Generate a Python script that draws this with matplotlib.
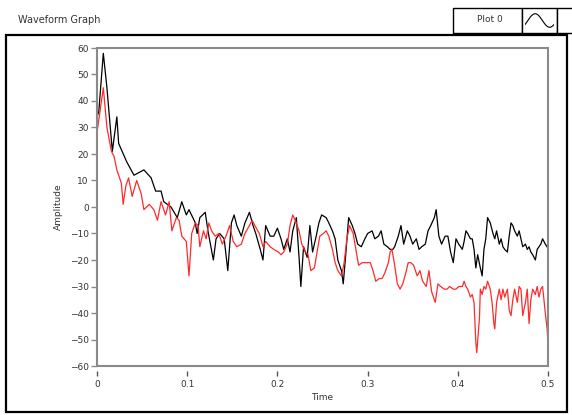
import numpy as np
import matplotlib
matplotlib.use("Agg")
import matplotlib.pyplot as plt
from matplotlib.patches import Rectangle

plt.rcParams['font.family'] = ['Liberation Sans Narrow', 'DejaVu Sans']

# Plot 0 (black) sample times and amplitudes
black_t = [0.000, 0.002, 0.007, 0.011, 0.017, 0.022, 0.024, 0.033, 0.041, 0.052,
           0.060, 0.065, 0.071, 0.074, 0.082, 0.089, 0.094, 0.099, 0.102, 0.109,
           0.111, 0.114, 0.120, 0.123, 0.129, 0.132, 0.136, 0.141, 0.145, 0.149,
           0.152, 0.155, 0.160, 0.164, 0.169, 0.173, 0.176, 0.181, 0.184, 0.187,
           0.192, 0.196, 0.200, 0.204, 0.207, 0.211, 0.214, 0.217, 0.221, 0.224,
           0.226, 0.229, 0.233, 0.236, 0.239, 0.243, 0.246, 0.249, 0.254, 0.257,
           0.261, 0.264, 0.267, 0.271, 0.273, 0.276, 0.279, 0.283, 0.286, 0.289,
           0.293, 0.297, 0.300, 0.305, 0.308, 0.312, 0.315, 0.318, 0.322, 0.325,
           0.328, 0.330, 0.334, 0.337, 0.340, 0.344, 0.347, 0.350, 0.354, 0.357,
           0.360, 0.364, 0.367, 0.370, 0.374, 0.376, 0.379, 0.382, 0.386, 0.389,
           0.392, 0.395, 0.398, 0.401, 0.405, 0.407, 0.409, 0.411, 0.414, 0.416,
           0.418, 0.420, 0.422, 0.425, 0.427, 0.429, 0.431, 0.433, 0.436, 0.439,
           0.441, 0.443, 0.446, 0.448, 0.450, 0.452, 0.455, 0.457, 0.459, 0.461,
           0.463, 0.466, 0.468, 0.470, 0.472, 0.475, 0.477, 0.479, 0.481, 0.483,
           0.486, 0.488, 0.490, 0.492, 0.494, 0.497, 0.499, 0.500]
black_y = [34, 36, 58, 45, 21, 34, 24, 17, 12, 14,
           11, 6, 6, 2, 0, -4, 2, -3, -1, -6,
           -10, -4, -2, -9, -20, -12, -10, -12, -24, -6,
           -3, -7, -11, -6, -2, -7, -10, -16, -20, -7,
           -11, -11, -8, -12, -16, -12, -17, -9, -4, -19,
           -30, -15, -19, -7, -17, -11, -6, -3, -4, -6,
           -9, -12, -20, -24, -29, -17, -4, -7, -10, -14,
           -15, -12, -10, -9, -12, -11, -9, -14, -15, -16,
           -16, -15, -11, -7, -14, -9, -11, -14, -12, -16,
           -15, -14, -9, -7, -4, -1, -11, -14, -11, -11,
           -17, -21, -12, -14, -16, -13, -9, -10, -12, -12,
           -16, -23, -18, -23, -26, -16, -12, -4, -6, -10,
           -12, -9, -14, -12, -15, -16, -17, -11, -6, -7,
           -9, -11, -9, -12, -15, -14, -16, -15, -17, -18,
           -20, -16, -15, -14, -12, -14, -15, -16]

# second trace (red)
red_t = [0.000, 0.007, 0.011, 0.016, 0.019, 0.022, 0.027, 0.029, 0.032, 0.035,
         0.039, 0.044, 0.049, 0.052, 0.058, 0.063, 0.067, 0.071, 0.076, 0.080,
         0.083, 0.088, 0.091, 0.094, 0.099, 0.102, 0.105, 0.109, 0.112, 0.114,
         0.118, 0.121, 0.124, 0.127, 0.131, 0.135, 0.139, 0.143, 0.147, 0.151,
         0.155, 0.160, 0.164, 0.169, 0.172, 0.175, 0.180, 0.184, 0.187, 0.192,
         0.196, 0.201, 0.204, 0.207, 0.211, 0.214, 0.217, 0.221, 0.224, 0.227,
         0.231, 0.234, 0.237, 0.241, 0.244, 0.247, 0.251, 0.254, 0.257, 0.261,
         0.264, 0.267, 0.271, 0.274, 0.277, 0.280, 0.284, 0.287, 0.290, 0.294,
         0.298, 0.303, 0.306, 0.309, 0.313, 0.316, 0.319, 0.323, 0.325, 0.327,
         0.330, 0.333, 0.336, 0.339, 0.343, 0.345, 0.348, 0.351, 0.355, 0.358,
         0.361, 0.365, 0.368, 0.371, 0.375, 0.378, 0.381, 0.385, 0.388, 0.391,
         0.395, 0.398, 0.401, 0.405, 0.407, 0.409, 0.411, 0.414, 0.416, 0.418,
         0.420, 0.421, 0.424, 0.425, 0.427, 0.429, 0.431, 0.433, 0.436, 0.438,
         0.440, 0.441, 0.443, 0.446, 0.448, 0.450, 0.452, 0.455, 0.457, 0.459,
         0.461, 0.463, 0.466, 0.468, 0.470, 0.472, 0.475, 0.477, 0.479, 0.481,
         0.483, 0.486, 0.488, 0.490, 0.492, 0.494, 0.497, 0.499, 0.500]
red_y = [28, 45, 30, 21, 19, 14, 9, 1, 8, 11,
         4, 10, 5, -1, 1, -1, -5, 2, -3, 2,
         -9, -4, -5, -11, -13, -26, -10, -6, -7, -15,
         -9, -12, -6, -9, -11, -10, -14, -11, -7, -13,
         -15, -14, -10, -7, -5, -7, -10, -15, -13, -15,
         -16, -17, -18, -17, -14, -7, -3, -6, -9, -14,
         -17, -18, -24, -23, -17, -11, -10, -9, -11, -16,
         -21, -24, -26, -21, -12, -7, -10, -16, -22, -21,
         -21, -21, -24, -28, -27, -27, -25, -21, -17, -16,
         -22, -29, -31, -29, -24, -21, -21, -22, -26, -24,
         -28, -30, -24, -32, -36, -29, -30, -31, -31, -30,
         -31, -31, -30, -30, -28, -30, -31, -34, -33, -36,
         -51, -55, -42, -31, -33, -30, -31, -28, -31, -36,
         -44, -46, -36, -31, -35, -31, -34, -31, -39, -41,
         -35, -31, -36, -30, -31, -41, -36, -31, -44, -35,
         -31, -33, -30, -34, -31, -30, -40, -46, -52]

x_ticks = [0, 0.1, 0.2, 0.3, 0.4, 0.5]
x_labels = ['0', '0.1', '0.2', '0.3', '0.4', '0.5']
y_ticks = list(range(-60, 61, 10))

W, H = 572, 415
fig = plt.figure(figsize=(W / 100, H / 100), dpi=100)
fig.patch.set_facecolor('white')

# outer control frame
fig.add_artist(Rectangle((6 / W, 1 - 412 / H), 561 / W, 377 / H, transform=fig.transFigure,
                         fill=False, edgecolor='black', linewidth=1.6))

fig.text(18 / W, 1 - 20 / H, 'Waveform Graph', fontsize=7, color='#333333', va='center', ha='left')

# legend: name box + line icon box
fig.add_artist(Rectangle((453 / W, 1 - 33 / H), 69 / W, 25 / H, transform=fig.transFigure,
                         facecolor='white', edgecolor='black', linewidth=1.0))
fig.add_artist(Rectangle((522 / W, 1 - 33 / H), 35 / W, 25 / H, transform=fig.transFigure,
                         facecolor='white', edgecolor='black', linewidth=1.0))
fig.add_artist(Rectangle((557 / W, 1 - 33 / H), 20 / W, 25 / H, transform=fig.transFigure,
                         facecolor='white', edgecolor='black', linewidth=1.0))
fig.add_artist(Rectangle((453 / W, 1 - 36 / H), 104 / W, 3 / H, transform=fig.transFigure,
                         facecolor='black', edgecolor='none'))
fig.text(490 / W, 1 - 20 / H, 'Plot 0', fontsize=6.5, color='#333333', ha='center', va='center')
icon = fig.add_axes([525 / W, 1 - 30 / H, 29 / W, 19 / H])
icon.set_zorder(5)
icon.patch.set_visible(False)
s = np.linspace(0, 1, 40)
icon.plot(s, np.sin(2 * np.pi * (s - 0.1)), color='black', lw=0.8)
icon.set_xlim(0, 1)
icon.set_ylim(-1.4, 1.4)
icon.axis('off')

ax = fig.add_axes([97 / W, 1 - 366 / H, 451 / W, 318 / H])
ax.plot(black_t, black_y, color='black', lw=0.9)
ax.plot(red_t, red_y, color='#ff2a2a', lw=0.9)

ax.set_xlim(0, 0.5)
ax.set_ylim(-60, 60)
ax.set_xticks(x_ticks)
ax.set_xticklabels(x_labels)
ax.set_yticks(y_ticks)

for side in ['top', 'right', 'left']:
    ax.spines[side].set_visible(False)
ax.spines['bottom'].set_position(('outward', 3.5))
ax.spines['bottom'].set_visible(False)
ax.add_patch(Rectangle((0, 0), 1, 1, transform=ax.transAxes, fill=False,
                       edgecolor='#8a8a8a', linewidth=1.5, clip_on=False, zorder=5))

ax.tick_params(axis='y', direction='out', length=4, width=1, color='#8a8a8a',
               labelsize=6.5, labelcolor='#333333', pad=2)
ax.tick_params(axis='x', direction='out', length=3.5, width=1, color='#555555',
               labelsize=6.5, labelcolor='#333333', pad=3)

ax.set_xlabel('Time', fontsize=6.5, color='#333333', labelpad=3)
ax.set_ylabel('Amplitude', fontsize=6.5, color='#333333', labelpad=5)

fig.savefig('out.png', dpi=100)
